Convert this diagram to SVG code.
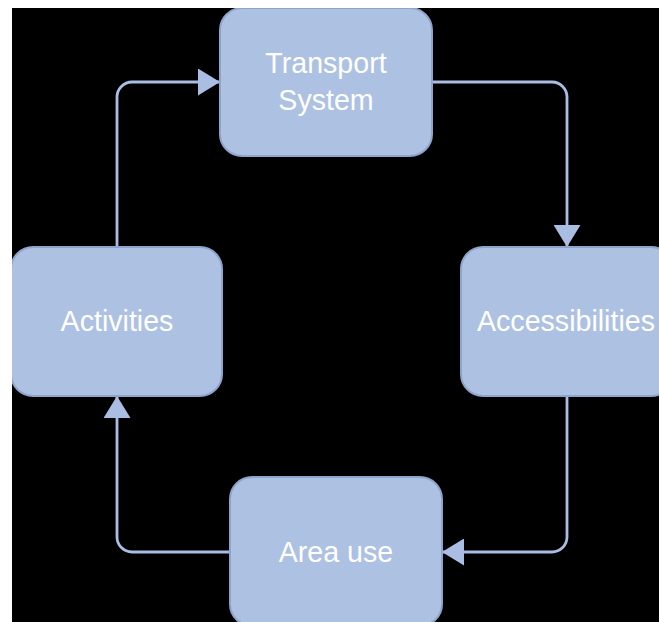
<svg xmlns="http://www.w3.org/2000/svg" width="659" height="622" viewBox="0 0 659 622">
  <defs>
    <style>
      .node rect { fill: #adc1e3; stroke: #8fa4ca; stroke-width: 2; }
      .node text { fill: #ffffff; font-family: "Liberation Sans", Arial, Helvetica, sans-serif; font-size: 28.6px; text-anchor: middle; }
      .edge { fill: none; stroke: #a9bee2; stroke-width: 2.8; }
    </style>
    <marker id="arrow" markerUnits="userSpaceOnUse" markerWidth="23" markerHeight="27" refX="22" refY="13.5" orient="auto">
      <path d="M0,0 L22,13.5 L0,27 Z" fill="#a9bee2"/>
    </marker>
    <clipPath id="area">
      <rect x="12" y="8" width="647" height="614"/>
    </clipPath>
  </defs>
  <rect x="0" y="0" width="659" height="622" fill="#ffffff"/>
  <rect x="12" y="8" width="647" height="614" fill="#000000"/>
  <g clip-path="url(#area)">
    <g id="connectors">
      <path class="edge" d="M117,247 V97 A15,15 0 0 1 132,82 H220" marker-end="url(#arrow)"/>
      <path class="edge" d="M432,82 H552 A15,15 0 0 1 567,97 V247" marker-end="url(#arrow)"/>
      <path class="edge" d="M567,396 V537 A15,15 0 0 1 552,552 H442" marker-end="url(#arrow)"/>
      <path class="edge" d="M230,552 H132 A15,15 0 0 1 117,537 V396" marker-end="url(#arrow)"/>
    </g>
    <g id="transport" class="node">
      <rect x="220" y="8" width="212" height="148" rx="22" ry="22"/>
      <text x="326" y="73">Transport</text>
      <text x="326" y="110">System</text>
    </g>
    <g id="accessibilities" class="node">
      <rect x="461" y="247" width="212" height="149" rx="22" ry="22"/>
      <text x="566" y="331">Accessibilities</text>
    </g>
    <g id="activities" class="node">
      <rect x="11" y="247" width="211" height="149" rx="22" ry="22"/>
      <text x="117" y="331">Activities</text>
    </g>
    <g id="area-use" class="node">
      <rect x="230" y="477" width="212" height="149" rx="22" ry="22"/>
      <text x="336" y="562">Area use</text>
    </g>
  </g>
</svg>
